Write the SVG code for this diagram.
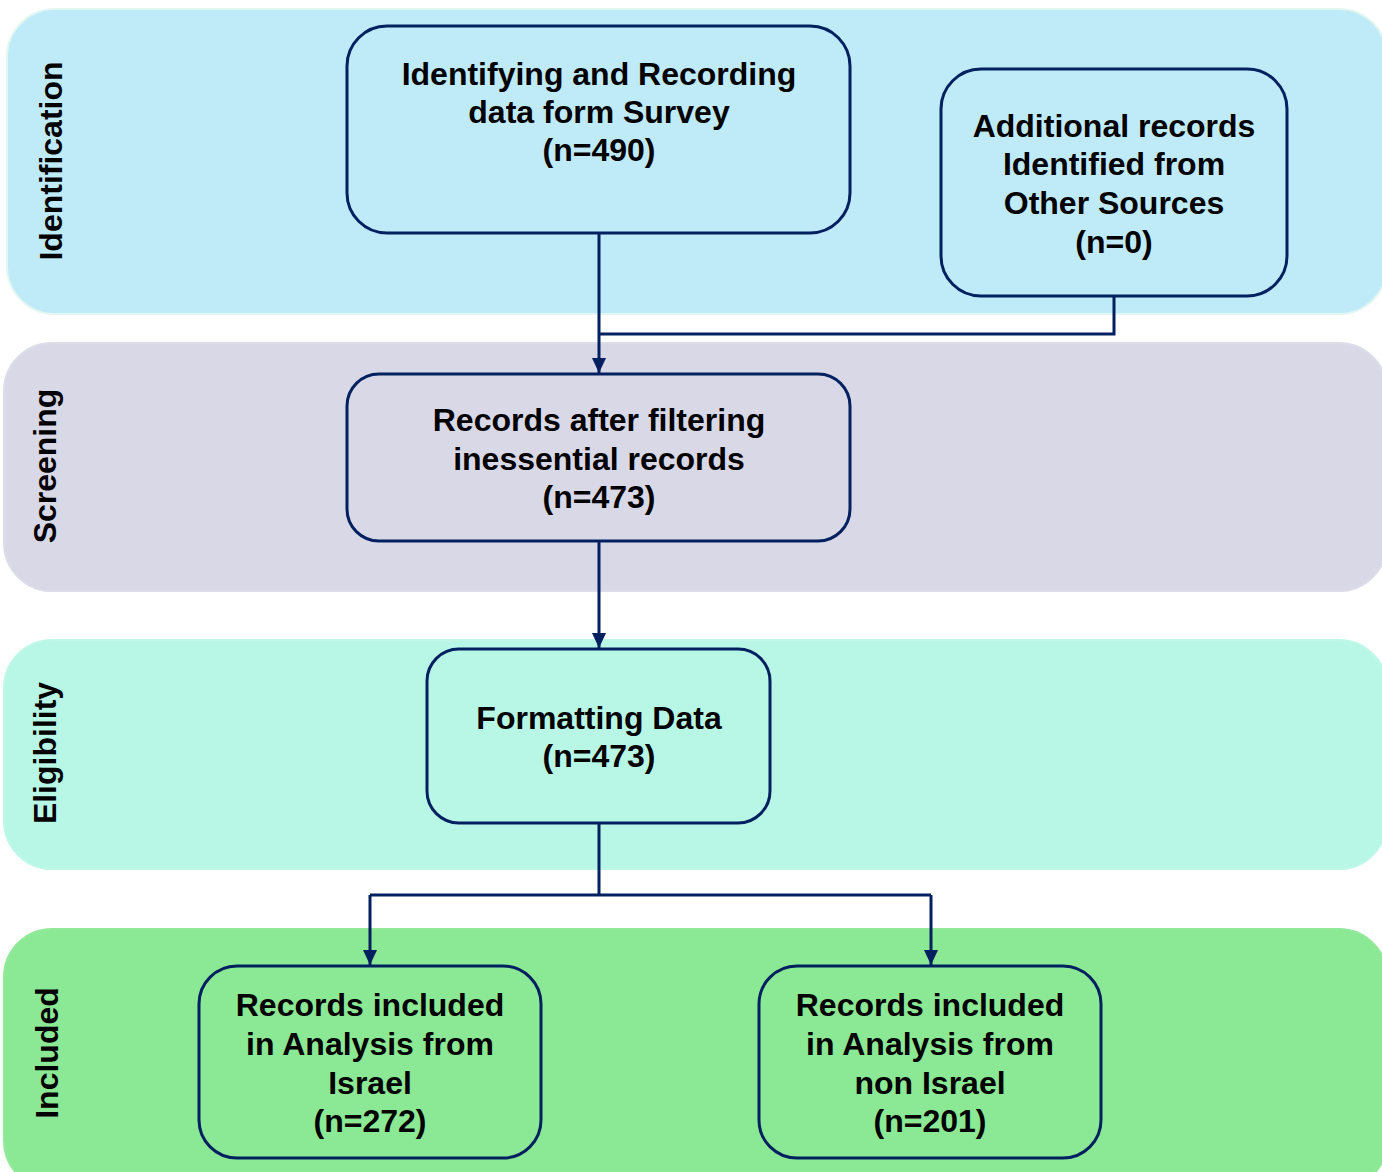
<svg xmlns="http://www.w3.org/2000/svg" width="1382" height="1172" viewBox="0 0 1382 1172">
  <defs>
    <style>
      .band { stroke-width: 2; }
      .phase { font-family: "Liberation Sans", Arial, sans-serif; font-weight: bold; font-size: 32px; fill: #000; text-anchor: middle; }
      .box { fill: none; stroke: #002060; stroke-width: 3; }
      .lbl { font-family: "Liberation Sans", Arial, sans-serif; font-weight: bold; font-size: 32px; fill: #000; text-anchor: middle; }
      .wire { fill: none; stroke: #002060; stroke-width: 3; }
    </style>
    <marker id="head" viewBox="0 0 15 14" refX="15" refY="7" markerWidth="15" markerHeight="14" markerUnits="userSpaceOnUse" orient="auto">
      <path d="M0,0 L15,7 L0,14 Z" fill="#002060"/>
    </marker>
  </defs>

  <!-- phase bands -->
  <g id="band-identification">
    <rect class="band" x="7" y="9" width="1380" height="305" rx="48" fill="#BFEAF7" stroke="#E2F6F2"/>
    <text class="phase" transform="translate(62 161) rotate(-90)">Identification</text>
  </g>
  <g id="band-screening">
    <rect class="band" x="4" y="343" width="1383" height="248" rx="48" fill="#D8D8E6" stroke="#DDDDE9"/>
    <text class="phase" transform="translate(56 466) rotate(-90)">Screening</text>
  </g>
  <g id="band-eligibility">
    <rect class="band" x="4" y="640" width="1383" height="229" rx="48" fill="#B8F7E6" stroke="#BFF7E9"/>
    <text class="phase" transform="translate(56 753) rotate(-90)">Eligibility</text>
  </g>
  <g id="band-included">
    <rect class="band" x="4" y="929" width="1383" height="260" rx="48" fill="#8BE894" stroke="#92E99A"/>
    <text class="phase" transform="translate(58 1053) rotate(-90)">Included</text>
  </g>

  <!-- connectors -->
  <g id="connectors">
    <path class="wire" d="M599,233 V373" marker-end="url(#head)"/>
    <path class="wire" d="M1114,296 V334 H599"/>
    <path class="wire" d="M599,541 V648" marker-end="url(#head)"/>
    <path class="wire" d="M599,823 V895"/>
    <path class="wire" d="M370,895 H931"/>
    <path class="wire" d="M370,895 V965" marker-end="url(#head)"/>
    <path class="wire" d="M931,895 V965" marker-end="url(#head)"/>
  </g>

  <!-- nodes -->
  <g id="node-survey">
    <rect class="box" x="347" y="26" width="503" height="207" rx="40"/>
    <text class="lbl" x="599" y="85">Identifying and Recording</text>
    <text class="lbl" x="599" y="123">data form Survey</text>
    <text class="lbl" x="599" y="161">(n=490)</text>
  </g>
  <g id="node-other">
    <rect class="box" x="941" y="69" width="346" height="227" rx="40"/>
    <text class="lbl" x="1114" y="137">Additional records</text>
    <text class="lbl" x="1114" y="175">Identified from</text>
    <text class="lbl" x="1114" y="214">Other Sources</text>
    <text class="lbl" x="1114" y="253">(n=0)</text>
  </g>
  <g id="node-filtered">
    <rect class="box" x="347" y="374" width="503" height="167" rx="32"/>
    <text class="lbl" x="599" y="431">Records after filtering</text>
    <text class="lbl" x="599" y="470">inessential records</text>
    <text class="lbl" x="599" y="508">(n=473)</text>
  </g>
  <g id="node-format">
    <rect class="box" x="427" y="649" width="343" height="174" rx="32"/>
    <text class="lbl" x="599" y="729">Formatting Data</text>
    <text class="lbl" x="599" y="767">(n=473)</text>
  </g>
  <g id="node-israel">
    <rect class="box" x="199" y="966" width="342" height="192" rx="38"/>
    <text class="lbl" x="370" y="1016">Records included</text>
    <text class="lbl" x="370" y="1055">in Analysis from</text>
    <text class="lbl" x="370" y="1094">Israel</text>
    <text class="lbl" x="370" y="1132">(n=272)</text>
  </g>
  <g id="node-non-israel">
    <rect class="box" x="759" y="966" width="342" height="192" rx="38"/>
    <text class="lbl" x="930" y="1016">Records included</text>
    <text class="lbl" x="930" y="1055">in Analysis from</text>
    <text class="lbl" x="930" y="1094">non Israel</text>
    <text class="lbl" x="930" y="1132">(n=201)</text>
  </g>
</svg>
